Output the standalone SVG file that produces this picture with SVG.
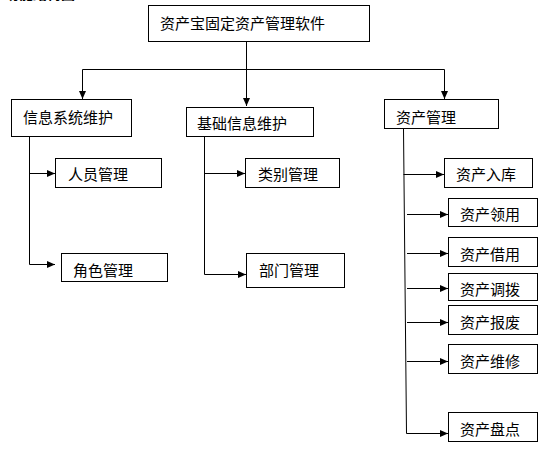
<svg xmlns="http://www.w3.org/2000/svg" width="552" height="455" viewBox="0 0 552 455">
<style>
.b{fill:#fff;stroke:#000;stroke-width:1}
.t{font-family:"Noto Sans CJK SC","Noto Sans",sans-serif;font-size:15px;fill:#000}
.c{fill:none;stroke:#000;stroke-width:1}
.h{font-family:"Noto Sans CJK SC","Noto Sans",sans-serif;font-size:14px;font-weight:bold;fill:#000}
</style>
<defs>
<marker id="a" markerWidth="8" markerHeight="8" refX="8" refY="4" orient="auto" markerUnits="userSpaceOnUse">
<path d="M0,0.5 L8,4 L0,7.5 Z" fill="#000"/>
</marker>
</defs>
<rect width="552" height="455" fill="#fff"/>
<text class="h" x="5" y="-1">功能结构图</text>
<g id="connectors">
<path class="c" d="M246.5,42 V106" marker-end="url(#a)"/>
<path class="c" d="M82.5,69.5 H444.5"/>
<path class="c" d="M82.5,69.5 V99" marker-end="url(#a)"/>
<path class="c" d="M444.5,69.5 V99" marker-end="url(#a)"/>
<path class="c" d="M29.5,137 V264.5"/>
<path class="c" d="M29.5,173.5 H55" marker-end="url(#a)"/>
<path class="c" d="M29.5,264.5 H55" marker-end="url(#a)"/>
<path class="c" d="M204.5,137 V274.5"/>
<path class="c" d="M204.5,173.5 H245" marker-end="url(#a)"/>
<path class="c" d="M204.5,274.5 H246" marker-end="url(#a)"/>
<path class="c" d="M403.5,129 L406.5,433.5"/>
<path class="c" d="M403.5,174.5 H444" marker-end="url(#a)"/>
<path class="c" d="M407,214.5 H448" marker-end="url(#a)"/>
<path class="c" d="M407,253.5 H448" marker-end="url(#a)"/>
<path class="c" d="M407,288.5 H448" marker-end="url(#a)"/>
<path class="c" d="M407,322.5 H448" marker-end="url(#a)"/>
<path class="c" d="M407,361.5 H448" marker-end="url(#a)"/>
<path class="c" d="M406.5,433.5 H448" marker-end="url(#a)"/>
</g>
<g id="root"><rect class="b" x="148.5" y="5.5" width="221" height="36"/><text class="t" x="160" y="29">资产宝固定资产管理软件</text></g>
<g id="n1"><rect class="b" x="11.5" y="99.5" width="120" height="37"/><text class="t" x="23" y="123">信息系统维护</text></g>
<g id="n2"><rect class="b" x="186.5" y="107.5" width="127" height="29"/><text class="t" x="197" y="129">基础信息维护</text></g>
<g id="n3"><rect class="b" x="384.5" y="99.5" width="114" height="29"/><text class="t" x="396" y="123">资产管理</text></g>
<g id="n11"><rect class="b" x="55.5" y="158.5" width="106" height="29"/><text class="t" x="68" y="180">人员管理</text></g>
<g id="n12"><rect class="b" x="61.5" y="253.5" width="106" height="28"/><text class="t" x="73" y="276">角色管理</text></g>
<g id="n21"><rect class="b" x="245.5" y="158.5" width="94" height="29"/><text class="t" x="258" y="180">类别管理</text></g>
<g id="n22"><rect class="b" x="246.5" y="253.5" width="98" height="34"/><text class="t" x="259" y="276">部门管理</text></g>
<g id="n31"><rect class="b" x="444.5" y="158.5" width="88" height="29"/><text class="t" x="456" y="180">资产入库</text></g>
<g id="n32"><rect class="b" x="448.5" y="198.5" width="89" height="28"/><text class="t" x="460" y="220">资产领用</text></g>
<g id="n33"><rect class="b" x="448.5" y="237.5" width="89" height="29"/><text class="t" x="460" y="260">资产借用</text></g>
<g id="n34"><rect class="b" x="448.5" y="273.5" width="89" height="27"/><text class="t" x="460" y="295">资产调拨</text></g>
<g id="n35"><rect class="b" x="448.5" y="305.5" width="89" height="29"/><text class="t" x="460" y="328">资产报废</text></g>
<g id="n36"><rect class="b" x="448.5" y="344.5" width="89" height="29"/><text class="t" x="460" y="367">资产维修</text></g>
<g id="n37"><rect class="b" x="448.5" y="412.5" width="89" height="29"/><text class="t" x="460" y="435">资产盘点</text></g>
</svg>
